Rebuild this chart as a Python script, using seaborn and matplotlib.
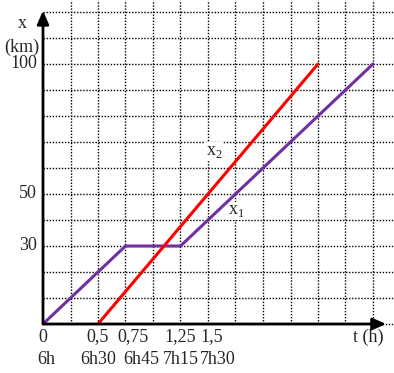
import matplotlib
matplotlib.use("Agg")
import matplotlib.pyplot as plt
import seaborn as sns
import pandas as pd

# data
t1 = [0, 0.75, 1.25, 3.0]
x1 = [0, 30, 30, 100]
t2 = [0.5, 2.5]
x2 = [0, 100]
xtick_vals = [0, 0.5, 0.75, 1.25, 1.5]
xtick_labels = ["0", "0,5", "0,75", "1,25", "1,5"]
clock_labels = ["6h", "6h30", "6h45", "7h15", "7h30"]
ytick_vals = [30, 50, 100]
ytick_labels = ["30", "50", "100"]

sns.set_style("white")
plt.rcParams['font.family'] = ['Liberation Serif', 'DejaVu Serif']
plt.rcParams['mathtext.fontset'] = 'custom'
plt.rcParams['mathtext.rm'] = 'Liberation Serif'

W, H = 394, 373
fig = plt.figure(figsize=(W / 100, H / 100), dpi=100)
ax = fig.add_axes([43 / W, 49 / H, 351 / W, 324 / H])
ax.set_xlim(0, 351 / 110)
ax.set_ylim(0, 324 / 2.6)

# grid
for gx in [i * 0.25 for i in range(1, 13)]:
    ax.axvline(gx, color='black', lw=1, ls=(0, (1, 1.2)), zorder=1)
for gy in range(0, 121, 10):
    ax.axhline(gy, color='black', lw=1, ls=(0, (1, 1.2)), zorder=1, clip_on=False)

d1 = pd.DataFrame({"t": t1, "x": x1})
d2 = pd.DataFrame({"t": t2, "x": x2})
sns.lineplot(data=d1, x="t", y="x", color="#7030A0", lw=2.2, ax=ax, zorder=3)
sns.lineplot(data=d2, x="t", y="x", color="#FF0000", lw=2.2, ax=ax, zorder=3)

for s in ax.spines.values():
    s.set_visible(False)
ax.set_xticks([])
ax.set_yticks([])
ax.set_xlabel("")
ax.set_ylabel("")

# axes arrows
ax.annotate("", xy=(3.12, 0), xytext=(0, 0), annotation_clip=False,
            arrowprops=dict(arrowstyle="-|>,head_length=0.8,head_width=0.35", color="black", lw=2, shrinkA=0, shrinkB=0), zorder=5)
ax.annotate("", xy=(0, 120.5), xytext=(0, 0), annotation_clip=False,
            arrowprops=dict(arrowstyle="-|>,head_length=0.8,head_width=0.35", color="black", lw=2, shrinkA=0, shrinkB=0), zorder=5)

fs = 13
# x labels, two rows
offs1 = [0, 0, 0.07, 0, 0.03]
offs2 = [0.03, 0, 0.14, 0, 0.09]
for v, lab, lab2, o1, o2 in zip(xtick_vals, xtick_labels, clock_labels, offs1, offs2):
    ax.text(v + o1, -5, lab, ha='center', va='center', fontsize=fs, clip_on=False)
    ax.text(v + o2, -13.8, lab2, ha='center', va='center', fontsize=fs, clip_on=False)
ax.text(2.96, -5, "t (h)", ha='center', va='center', fontsize=fs, clip_on=False)

for v, lab in zip(ytick_vals, ytick_labels):
    ax.text(-0.055, v, lab, ha='right', va='center', fontsize=fs, clip_on=False)
ax.text(-0.19, 115.5, "x", ha='center', va='center', fontsize=fs, clip_on=False)
ax.text(-0.19, 106.5, "(km)", ha='center', va='center', fontsize=fs, clip_on=False)

box = dict(facecolor='white', edgecolor='none', pad=0.5)
ax.text(1.555, 66.5, r"x$_2$", ha='center', va='center', fontsize=fs, bbox=box, zorder=2)
ax.text(1.755, 43.5, r"x$_1$", ha='center', va='center', fontsize=fs, bbox=box, zorder=2)

fig.savefig("out.png", dpi=100)
